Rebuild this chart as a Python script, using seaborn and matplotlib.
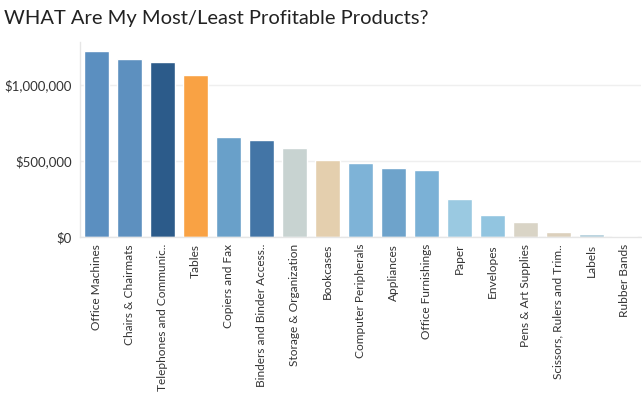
import numpy as np
import pandas as pd
import seaborn as sns
import matplotlib.pyplot as plt
from matplotlib.ticker import FuncFormatter, FixedLocator

# dados
products = ['Office Machines', 'Chairs & Chairmats', 'Telephones and Communic..',
            'Tables', 'Copiers and Fax', 'Binders and Binder Access..',
            'Storage & Organization', 'Bookcases', 'Computer Peripherals',
            'Appliances', 'Office Furnishings', 'Paper', 'Envelopes',
            'Pens & Art Supplies', 'Scissors, Rulers and Trim..', 'Labels',
            'Rubber Bands']
profit = [1223000, 1165000, 1145000, 1066000, 658000, 638000, 585000, 506000,
          487000, 454000, 441000, 250000, 145000, 99000, 33000, 20000, 7000]
colors = ['#5B8FC0', '#5D90BF', '#2C5B8A', '#F9A244', '#69A0C9', '#4375A6',
          '#C8D3D1', '#E4CFAE', '#7EB3D7', '#6EA3CB', '#7BB1D6', '#9AC9E1',
          '#92C5E0', '#D9D4C6', '#DCD0BC', '#ACCCD9', '#E0CFB5']

df = pd.DataFrame({'product': products, 'profit': profit})

sns.set_theme(style='white')
plt.rcParams['font.family'] = ['Lato', 'DejaVu Sans']

fig = plt.figure(figsize=(6.42, 3.99), dpi=100)
ax = fig.add_axes([0.1246, 0.406, 0.8734, 0.489])

sns.barplot(data=df, x='product', y='profit', hue='product', palette=colors,
            legend=False, width=0.76, saturation=1, ax=ax)

ax.set_ylim(0, 1.28e6)
ax.set_xlim(-0.5, len(products) - 0.5)
ax.set_yticks([0, 500000, 1000000])
ax.yaxis.set_major_formatter(FuncFormatter(lambda v, p: '${:,.0f}'.format(v)))
ax.grid(axis='y', color='#EFEFEF', linewidth=1)
ax.set_axisbelow(True)
ax.set_xlabel('')
ax.set_ylabel('')

ax.tick_params(axis='y', length=0, labelsize=9.5, labelcolor='#333333', pad=6)
ax.tick_params(axis='x', which='major', length=0, labelsize=8.6,
               labelcolor='#333333', labelrotation=90, pad=5)
ax.xaxis.set_minor_locator(FixedLocator(np.arange(-0.5, len(products), 1)))
ax.tick_params(axis='x', which='minor', length=4, color='#E6E6E6', width=1)

for s in ['top', 'right']:
    ax.spines[s].set_visible(False)
for s in ['left', 'bottom']:
    ax.spines[s].set_color('#E6E6E6')
    ax.spines[s].set_linewidth(1)

fig.text(0.006, 0.94, 'WHAT Are My Most/Least Profitable Products?',
         fontsize=14.5, color='#222222', va='baseline')

fig.savefig('out.png', dpi=100, facecolor='white')
